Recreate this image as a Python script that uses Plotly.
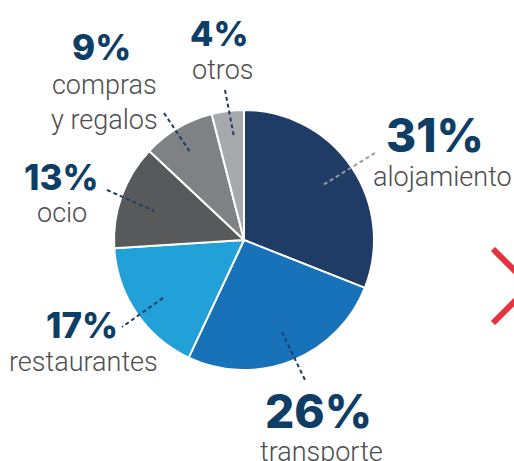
import plotly.graph_objects as go

W, H = 514, 461

# data
categories = ["alojamiento", "transporte", "restaurantes", "ocio", "compras<br>y regalos", "otros"]
shares = [31, 26, 17, 13, 9, 4]
slice_colors = ["#1f3c66", "#1772b9", "#22a0d8", "#58595b", "#808184", "#a7a9ac"]

# label layout (window pixel coordinates, y down)
pct_pos = [(435, 135), (318, 411), (82, 325), (61, 177), (101, 47), (219, 33)]
pct_size = [46, 46, 35, 35, 35, 34]
name_pos = [(442, 177), (321, 452), (83, 362), (62, 213), (104, 102), (222, 70)]
leaders = [
    ((375, 153), (323, 185), "#9a9a9a"),
    ((282, 332), (305, 380), "#1f3c66"),
    ((163, 298), (122, 327), "#1f3c66"),
    ((107, 190), (154, 211), "#1f3c66"),
    ((164, 113), (190, 152), "#1f3c66"),
    ((225, 90), (234, 137), "#1f3c66"),
]

CX, CY, R = 244, 240, 130
NAVY = "#0e3d66"
GREY = "#4d4d4f"

fig = go.Figure()
fig.add_trace(go.Pie(
    labels=categories, values=shares, sort=False, direction="clockwise", rotation=0,
    marker=dict(colors=slice_colors, line=dict(color="white", width=2)),
    textinfo="none", hoverinfo="label+percent", showlegend=False,
    domain=dict(x=[(CX - R) / W, (CX + R) / W], y=[1 - (CY + R) / H, 1 - (CY - R) / H]),
))

annotations = []
for v, (x, y), s in zip(shares, pct_pos, pct_size):
    annotations.append(dict(
        x=x, y=y, xref="x", yref="y", text=f"{v}%", showarrow=False,
        font=dict(family="Inter, Lato, sans-serif", size=s, color=NAVY, weight=800),
        xanchor="center", yanchor="middle",
    ))
for name, (x, y) in zip(categories, name_pos):
    annotations.append(dict(
        x=x, y=y, xref="x", yref="y", text=name, showarrow=False,
        font=dict(family="Roboto, sans-serif", size=27, color=GREY, weight=300),
        xanchor="center", yanchor="middle",
    ))

shapes = []
for (x0, y0), (x1, y1), c in leaders:
    shapes.append(dict(type="line", xref="x", yref="y", x0=x0, y0=y0, x1=x1, y1=y1,
                       line=dict(color=c, width=2, dash="4px,3px")))
# red chevron at the right edge
shapes.append(dict(type="path", xref="x", yref="y", path="M 493 249 L 530 286 L 493 323",
                   line=dict(color="#e8323f", width=6)))

fig.update_layout(
    width=W, height=H, margin=dict(l=0, r=0, t=0, b=0),
    paper_bgcolor="white", plot_bgcolor="rgba(0,0,0,0)",
    xaxis=dict(range=[0, W], visible=False, fixedrange=True),
    yaxis=dict(range=[H, 0], visible=False, fixedrange=True),
    annotations=annotations, shapes=shapes,
)
fig.write_html("out.html", config={"displayModeBar": False},
               post_script="document.body.style.margin='0';document.body.style.overflow='hidden';")
